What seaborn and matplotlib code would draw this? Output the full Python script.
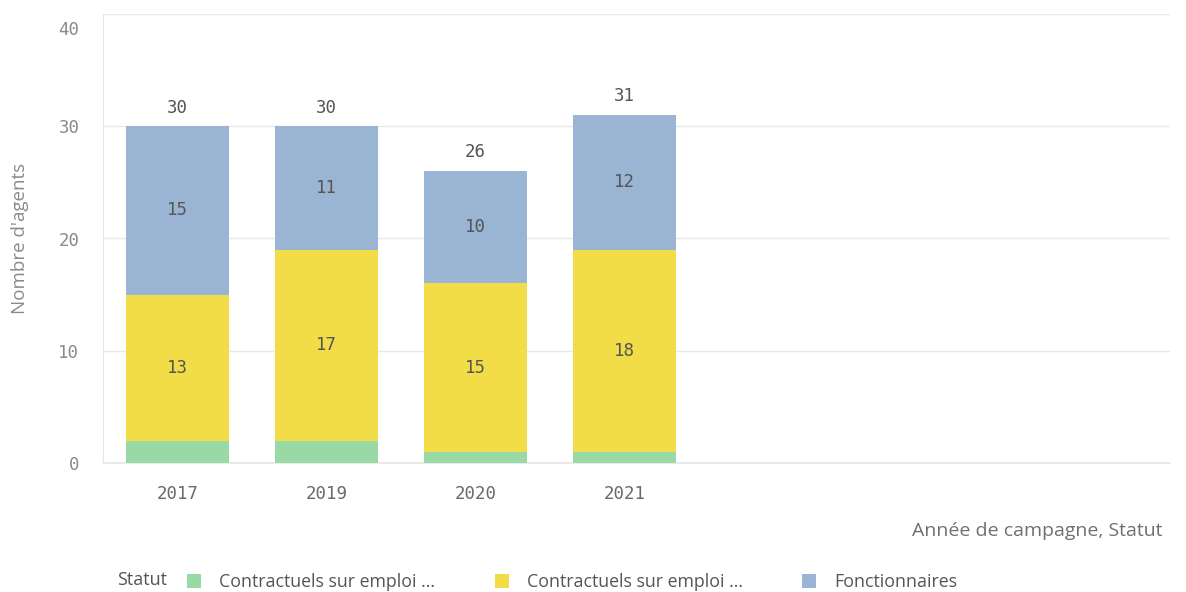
import numpy as np
import pandas as pd
import matplotlib
matplotlib.use("Agg")
import matplotlib.pyplot as plt
import matplotlib.transforms as mtransforms
from matplotlib.patches import Patch
import seaborn as sns

# Données
annees = ["2017", "2019", "2020", "2021"]
contractuels_1 = [2, 2, 1, 1]
contractuels_2 = [13, 17, 15, 18]
fonctionnaires = [15, 11, 10, 12]
statuts = ["Contractuels sur emploi ...", "Contractuels sur emploi ...", "Fonctionnaires"]

couleurs = ["#98d9a6", "#f2dc48", "#9ab4d4"]
gris = "#8a8a8a"
mono = "DejaVu Sans Mono"
sans = ["Open Sans", "DejaVu Sans"]

sns.set_style("white")

df = pd.DataFrame({"annee": annees, "c1": contractuels_1, "c2": contractuels_2, "f": fonctionnaires})
df["cum1"] = df["c1"]
df["cum2"] = df["c1"] + df["c2"]
df["total"] = df["cum2"] + df["f"]

fig = plt.figure(figsize=(11.86, 5.92), dpi=100)
ax = fig.add_axes([103 / 1186, 129 / 592, (1170 - 103) / 1186, (463 - 14) / 592])

# Barres empilées : du plus haut au plus bas
for col, c in zip(["total", "cum2", "cum1"], couleurs[::-1]):
    sns.barplot(data=df, x="annee", y=col, color=c, width=0.69, saturation=1,
                ax=ax, order=annees, linewidth=0, edgecolor="none")

# Étiquettes dans les segments
for i, row in df.iterrows():
    ax.text(i, row["cum1"] + row["c2"] / 2, str(row["c2"]), ha="center", va="center",
            fontsize=12.5, family=mono, color="#555555")
    ax.text(i, row["cum2"] + row["f"] / 2, str(row["f"]), ha="center", va="center",
            fontsize=12.5, family=mono, color="#555555")
    ax.annotate(str(row["total"]), (i, row["total"]), xytext=(0, 7), textcoords="offset points",
                ha="center", va="bottom", fontsize=12.5, family=mono, color="#555555")

ax.set_xlim(-0.5, 6.66)
ax.set_ylim(0, 40)
ax.set_yticks([0, 10, 20, 30, 40])
ax.grid(axis="y", color="#e9e9e9", linewidth=1)
ax.axhline(0, color="#e6e6e6", linewidth=1.2, clip_on=False, zorder=0)
ax.set_axisbelow(True)
for s in ["top", "right", "bottom"]:
    ax.spines[s].set_visible(False)
ax.spines["left"].set_color("#e6e6e6")

ax.tick_params(axis="y", length=10, color="#e9e9e9", pad=7, labelsize=12.5, labelcolor=gris)
ax.tick_params(axis="x", length=0, pad=16, labelsize=12.5, labelcolor="#6a6a6a")
for lab in ax.get_yticklabels() + ax.get_xticklabels():
    lab.set_family(mono)
# le libellé du haut est décalé vers le bas
top = ax.get_yticklabels()[-1]
top.set_transform(top.get_transform() + mtransforms.ScaledTranslation(0, -10 / 72, fig.dpi_scale_trans))

ax.set_xlabel("")
ax.set_ylabel("")
fig.text(20 / 1186, 1 - 238 / 592, "Nombre d'agents", rotation=90, ha="center", va="center",
         fontsize=13.5, color=gris, family=sans)
fig.text(1163 / 1186, 1 - 531 / 592, "Année de campagne, Statut", ha="right", va="center",
         fontsize=14, color="#707070", family=sans)

# Légende
fig.text(117 / 1186, 1 - 580 / 592, "Statut", ha="left", va="center", fontsize=13,
         color="#555555", family=sans)
handles = [Patch(facecolor=c, edgecolor="none") for c in couleurs]
leg = fig.legend(handles, statuts, loc="center left", bbox_to_anchor=(187 / 1186, 1 - 582 / 592),
                 ncol=3, frameon=False, handlelength=0.8, handleheight=0.8, handletextpad=1.0,
                 columnspacing=3.35, borderaxespad=0, borderpad=0,
                 prop={"family": sans, "size": 12.8})
for t in leg.get_texts():
    t.set_color("#555555")

fig.savefig("out.png", dpi=100)
